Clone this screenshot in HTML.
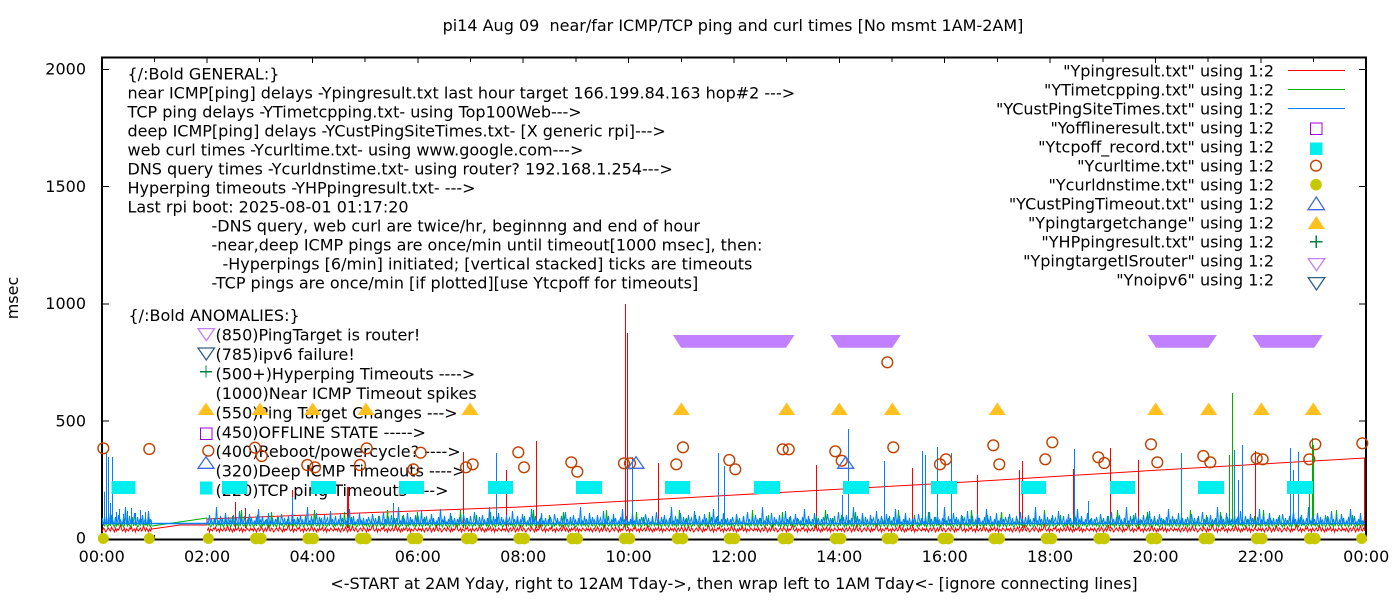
<!DOCTYPE html>
<html><head><meta charset="utf-8"><style>
html,body{margin:0;padding:0;background:#fff;}
svg{display:block;}
text{font-family:"DejaVu Sans","Liberation Sans",sans-serif;font-size:16px;fill:#000;white-space:pre;}
</style></head><body>
<svg width="1400" height="600" viewBox="0 0 1400 600" xmlns="http://www.w3.org/2000/svg">
<defs>
<pattern id="pr" patternUnits="userSpaceOnUse" x="0" y="515" width="84" height="20">
<polyline fill="none" stroke="#ff0000" stroke-width="1" points="-0.5,15 0.5,14 1.5,16 2.5,13 3.5,15 4.5,17 5.5,14 6.5,13 7.5,16 8.5,15 9.5,12 10.5,14 11.5,17 12.5,15 13.5,13 14.5,16 15.5,14 16.5,10 17.5,15 18.5,16 19.5,13 20.5,14 21.5,17 22.5,16 23.5,14 24.5,13 25.5,15 26.5,16 27.5,12 28.5,14 29.5,15 30.5,17 31.5,13 32.5,16 33.5,14 34.5,15 35.5,13 36.5,9 37.5,14 38.5,16 39.5,15 40.5,13 41.5,17 42.5,14 43.5,15 44.5,16 45.5,13 46.5,14 47.5,12 48.5,16 49.5,15 50.5,14 51.5,17 52.5,13 53.5,15 54.5,16 55.5,14 56.5,13 57.5,16 58.5,15 59.5,10 60.5,14 61.5,16 62.5,13 63.5,15 64.5,17 65.5,14 66.5,16 67.5,13 68.5,15 69.5,14 70.5,12 71.5,16 72.5,15 73.5,13 74.5,17 75.5,14 76.5,15 77.5,16 78.5,13 79.5,14 80.5,15 81.5,16 82.5,13 83.5,15 84.5,14"/>
</pattern>
<pattern id="pg" patternUnits="userSpaceOnUse" x="0" y="500" width="73" height="30">
<polyline fill="none" stroke="#00b000" stroke-width="1" points="-0.5,25 0.5,24 1.5,26 2.5,23 3.5,25 4.5,27 5.5,24 6.5,19 7.5,25 8.5,26 9.5,23 10.5,24 11.5,27 12.5,25 13.5,16 14.5,24 15.5,26 16.5,23 17.5,25 18.5,24 19.5,27 20.5,23 21.5,25 22.5,10 23.5,24 24.5,26 25.5,25 26.5,23 27.5,27 28.5,24 29.5,18 30.5,25 31.5,26 32.5,23 33.5,24 34.5,27 35.5,25 36.5,23 37.5,26 38.5,15 39.5,24 40.5,25 41.5,27 42.5,23 43.5,26 44.5,24 45.5,25 46.5,20 47.5,24 48.5,26 49.5,23 50.5,27 51.5,25 52.5,12 53.5,24 54.5,26 55.5,23 56.5,25 57.5,27 58.5,24 59.5,17 60.5,26 61.5,23 62.5,25 63.5,24 64.5,27 65.5,26 66.5,23 67.5,25 68.5,19 69.5,24 70.5,26 71.5,23 72.5,25 73.5,24"/>
</pattern>
<pattern id="pb" patternUnits="userSpaceOnUse" x="0" y="500" width="91" height="30">
<polyline fill="none" stroke="#0080ff" stroke-width="1" points="-0.5,18 0.5,23.3 1.5,23.3 2.5,19 3.5,23.3 4.5,17 5.5,21 6.5,23.3 7.5,23.3 8.5,14 9.5,20 10.5,23.3 11.5,18 12.5,23.3 13.5,22 14.5,23.3 15.5,16 16.5,23.3 17.5,23.3 18.5,21 19.5,12 20.5,23.3 21.5,19 22.5,23.3 23.5,23.3 24.5,17 25.5,23.3 26.5,22 27.5,15 28.5,23.3 29.5,20 30.5,23.3 31.5,23.3 32.5,18 33.5,23.3 34.5,7 35.5,23.3 36.5,21 37.5,23.3 38.5,16 39.5,23.3 40.5,19 41.5,23.3 42.5,23.3 43.5,13 44.5,22 45.5,23.3 46.5,17 47.5,23.3 48.5,20 49.5,23.3 50.5,23.3 51.5,15 52.5,23.3 53.5,21 54.5,18 55.5,23.3 56.5,23.3 57.5,11 58.5,23.3 59.5,19 60.5,23.3 61.5,22 62.5,16 63.5,23.3 64.5,23.3 65.5,20 66.5,23.3 67.5,14 68.5,23.3 69.5,18 70.5,23.3 71.5,23.3 72.5,21 73.5,23.3 74.5,17 75.5,23.3 76.5,9 77.5,23.3 78.5,20 79.5,23.3 80.5,16 81.5,23.3 82.5,22 83.5,23.3 84.5,19 85.5,23.3 86.5,13 87.5,23.3 88.5,21 89.5,23.3 90.5,18 91.5,23.3"/>
</pattern>
</defs>
<rect width="1400" height="600" fill="#fff"/>

<!-- title / axis labels -->
<text x="733" y="31" text-anchor="middle">pi14 Aug 09  near/far ICMP/TCP ping and curl times [No msmt 1AM-2AM]</text>
<text x="734" y="589" text-anchor="middle">&lt;-START at 2AM Yday, right to 12AM Tday-&gt;, then wrap left to 1AM Tday&lt;- [ignore connecting lines]</text>
<text transform="translate(18,298) rotate(-90)" text-anchor="middle">msec</text>

<!-- y tick labels -->
<g text-anchor="end">
<text x="86" y="74.5">2000</text>
<text x="86" y="191.8">1500</text>
<text x="86" y="309.1">1000</text>
<text x="86" y="426.4">500</text>
<text x="86" y="543.7">0</text>
</g>
<!-- x tick labels -->
<g text-anchor="middle">
<text x="101.7" y="562">00:00</text>
<text x="207.1" y="562">02:00</text>
<text x="312.5" y="562">04:00</text>
<text x="417.8" y="562">06:00</text>
<text x="523.2" y="562">08:00</text>
<text x="628.6" y="562">10:00</text>
<text x="734" y="562">12:00</text>
<text x="839.3" y="562">14:00</text>
<text x="944.7" y="562">16:00</text>
<text x="1050.1" y="562">18:00</text>
<text x="1155.5" y="562">20:00</text>
<text x="1260.8" y="562">22:00</text>
<text x="1366.2" y="562">00:00</text>
</g>

<!-- frame and ticks -->
<g stroke="#000" fill="none" shape-rendering="crispEdges">
<rect x="102" y="57.5" width="1264" height="482" stroke-width="1.6"/>
<path stroke-width="1" d="M102 538.5H109M102 421.2H109M102 303.9H109M102 186.6H109M102 69.3H109
M1366 538.5H1359M1366 421.2H1359M1366 303.9H1359M1366 186.6H1359M1366 69.3H1359
M154.4 58V62M207.1 58V63M259.7 58V62M312.5 58V63M365.1 58V62M417.8 58V63M470.5 58V62M523.2 58V63M575.9 58V62M628.6 58V63M681.3 58V62M734 58V63M786.7 58V62M839.3 58V63M892 58V62M944.7 58V63M997.4 58V62M1050.1 58V63M1102.8 58V62M1155.5 58V63M1208.2 58V62M1260.8 58V63M1313.5 58V62
M154.4 539V535M207.1 539V534M259.7 539V535M312.5 539V534M365.1 539V535M417.8 539V534M470.5 539V535M523.2 539V534M575.9 539V535M628.6 539V534M681.3 539V535M734 539V534M786.7 539V535M839.3 539V534M892 539V535M944.7 539V534M997.4 539V535M1050.1 539V534M1102.8 539V535M1155.5 539V534M1208.2 539V535M1260.8 539V534M1313.5 539V535"/>
</g>

<!-- general text block -->
<text x="127.5" y="79.3">{/:Bold GENERAL:}</text>
<text x="127.5" y="98.3">near ICMP[ping] delays -Ypingresult.txt last hour target 166.199.84.163 hop#2 ---&gt;</text>
<text x="127.5" y="117.3">TCP ping delays -YTimetcpping.txt- using Top100Web---&gt;</text>
<text x="127.5" y="136.4">deep ICMP[ping] delays -YCustPingSiteTimes.txt- [X generic rpi]---&gt;</text>
<text x="127.5" y="155.4">web curl times -Ycurltime.txt- using www.google.com---&gt;</text>
<text x="127.5" y="174.5">DNS query times -Ycurldnstime.txt- using router? 192.168.1.254---&gt;</text>
<text x="127.5" y="193.5">Hyperping timeouts -YHPpingresult.txt- ---&gt;</text>
<text x="127.5" y="212.5">Last rpi boot: 2025-08-01 01:17:20</text>
<text x="211.5" y="231.5">-DNS query, web curl are twice/hr, beginnng and end of hour</text>
<text x="211.5" y="250.6">-near,deep ICMP pings are once/min until timeout[1000 msec], then:</text>
<text x="222.5" y="269.6">-Hyperpings [6/min] initiated; [vertical stacked] ticks are timeouts</text>
<text x="211.5" y="288.7">-TCP pings are once/min [if plotted][use Ytcpoff for timeouts]</text>

<text x="128.5" y="321">{/:Bold ANOMALIES:}</text>
<text x="215.5" y="340.5">(850)PingTarget is router!</text>
<text x="215.5" y="360">(785)ipv6 failure!</text>
<text x="215.5" y="379.4">(500+)Hyperping Timeouts ----&gt;</text>
<text x="215.5" y="398.9">(1000)Near ICMP Timeout spikes</text>
<text x="215.5" y="418.3">(550)Ping Target Changes ---&gt;</text>
<text x="215.5" y="437.8">(450)OFFLINE STATE -----&gt;</text>
<text x="215.5" y="457.2">(400)Reboot/powercycle? ----&gt;</text>
<text x="215.5" y="476.7">(320)Deep ICMP Timeouts ----&gt;</text>
<text x="215.5" y="496.1">(220)TCP ping Timeouts ----&gt;</text>

<!-- legend text -->
<g text-anchor="end">
<text x="1274" y="76.5">"Ypingresult.txt" using 1:2</text>
<text x="1274" y="95.5">"YTimetcpping.txt" using 1:2</text>
<text x="1274" y="114.5">"YCustPingSiteTimes.txt" using 1:2</text>
<text x="1274" y="133.5">"Yofflineresult.txt" using 1:2</text>
<text x="1274" y="152.5">"Ytcpoff_record.txt" using 1:2</text>
<text x="1274" y="171.5">"Ycurltime.txt" using 1:2</text>
<text x="1274" y="190.5">"Ycurldnstime.txt" using 1:2</text>
<text x="1274" y="209.5">"YCustPingTimeout.txt" using 1:2</text>
<text x="1274" y="228.5">"Ypingtargetchange" using 1:2</text>
<text x="1274" y="247.5">"YHPpingresult.txt" using 1:2</text>
<text x="1274" y="266.5">"YpingtargetISrouter" using 1:2</text>
<text x="1274" y="285.5">"Ynoipv6" using 1:2</text>
</g>

<!-- legend line samples -->
<g stroke-width="1">
<line x1="1288" y1="70.5" x2="1345" y2="70.5" stroke="#ff0000"/>
<line x1="1288" y1="89.5" x2="1345" y2="89.5" stroke="#00b000"/>
<line x1="1288" y1="108.5" x2="1345" y2="108.5" stroke="#0080ff"/>
</g>

<!-- RED series -->
<rect x="102" y="515" width="50" height="20" fill="url(#pr)"/>
<rect x="207" y="515" width="1157" height="20" fill="url(#pr)"/>
<g fill="none" stroke="#ff0000" stroke-width="1">
<path d="M235.5,528V502M245.5,528V508M292.5,528V490M347.5,528V487M348.5,528V487M463.5,528V452M506.5,528V470M536.5,528V441M625.5,528V304M627.5,528V333M658.5,528V463M816.5,528V465M912.5,528V468M977.5,528V475M1019.5,528V470M1022.5,528V461M1073.5,528V469M1110.5,528V448M1138.5,528V460M1255.5,528V451"/>
<polyline points="152,529 180,525 207,525 207,519 360,513 520,507 735,495 950,483 1160,470 1364.5,458 1364.5,531"/>
</g>

<!-- GREEN series -->
<rect x="102" y="500" width="50" height="30" fill="url(#pg)"/>
<rect x="207" y="500" width="1157" height="30" fill="url(#pg)"/>
<g fill="none" stroke="#00b000" stroke-width="1">
<path d="M1229.5,524V455M1232.5,524V393M1309.5,524V483M1312.5,524V438M1313.5,524V445"/>
<polyline points="152,526 207,518"/>
</g>

<!-- BLUE series -->
<line x1="102" y1="523.5" x2="1365" y2="523.5" stroke="#0080ff" stroke-width="1.5"/>
<rect x="102" y="500" width="50" height="30" fill="url(#pb)"/>
<rect x="207" y="500" width="1157" height="30" fill="url(#pb)"/>
<g fill="none" stroke="#0080ff" stroke-width="1">
<path d="M104.5,523V491.7M106.5,523V453M108.5,523V457M110.5,523V503M112.5,523V457M116.5,523V512M119.5,523V509M123.5,523V514M127.5,523V511M131.5,523V508M135.5,523V513M140.5,523V510M145.5,523V512M148.5,523V515M292.5,523V497M393.5,523V503M496.5,523V453M632.5,523V457M718.5,523V453M724.5,523V466M842.5,523V495M848.5,523V429M884.5,523V461M922.5,523V451M925.5,523V455M937.5,523V447M951.5,523V453M1074.5,523V449M1088.5,523V501M1181.5,523V453M1234.5,523V450M1242.5,523V445M1238.5,523V480M1290.5,523V448M1293.5,523V470M1298.5,523V452"/>
</g>

<!-- TCP off (cyan) -->
<g fill="#00eeee" shape-rendering="crispEdges">
<rect x="111.7" y="481" width="24" height="13"/>
<rect x="200" y="481.7" width="12.7" height="12.7"/>
<rect x="222" y="481" width="25" height="13"/>
<rect x="311" y="481" width="25" height="13"/>
<rect x="399" y="481" width="25" height="13"/>
<rect x="488" y="481" width="25" height="13"/>
<rect x="576" y="481" width="26" height="13"/>
<rect x="665" y="481" width="25" height="13"/>
<rect x="754" y="481" width="26" height="13"/>
<rect x="843" y="481" width="26" height="13"/>
<rect x="931" y="481" width="26" height="13"/>
<rect x="1021" y="481" width="25" height="13"/>
<rect x="1110" y="481" width="25" height="13"/>
<rect x="1198" y="481" width="26" height="13"/>
<rect x="1287" y="481" width="26" height="13"/>
<rect x="1310" y="142.3" width="12.7" height="12.7"/>
</g>

<!-- offline square -->
<g fill="none" stroke="#a000e0" stroke-width="1.3" shape-rendering="crispEdges">
<rect x="200.5" y="428" width="11.5" height="11.5"/>
<rect x="1310.5" y="123" width="11.5" height="11.5"/>
</g>

<!-- curl circles -->
<g fill="none" stroke="#c04000" stroke-width="1.4">
<circle cx="103.3" cy="448.3" r="5.4"/><circle cx="149.3" cy="449" r="5.4"/><circle cx="208.3" cy="450.7" r="5.4"/>
<circle cx="255" cy="447.7" r="5.4"/><circle cx="261.7" cy="456" r="5.4"/><circle cx="307.3" cy="465" r="5.4"/>
<circle cx="315" cy="467.3" r="5.4"/><circle cx="360" cy="465" r="5.4"/><circle cx="366.7" cy="448.3" r="5.4"/>
<circle cx="413.3" cy="469.3" r="5.4"/><circle cx="420.7" cy="452.7" r="5.4"/><circle cx="466" cy="467.3" r="5.4"/>
<circle cx="472.7" cy="464.3" r="5.4"/><circle cx="518.3" cy="452.3" r="5.4"/><circle cx="524" cy="467.3" r="5.4"/>
<circle cx="571.3" cy="462.3" r="5.4"/><circle cx="577.3" cy="471.7" r="5.4"/><circle cx="624" cy="463.3" r="5.4"/>
<circle cx="630" cy="463.3" r="5.4"/><circle cx="676.3" cy="464.3" r="5.4"/><circle cx="683" cy="447.3" r="5.4"/>
<circle cx="729.3" cy="460" r="5.4"/><circle cx="735.3" cy="469.3" r="5.4"/><circle cx="782.7" cy="449.3" r="5.4"/>
<circle cx="788.7" cy="449.3" r="5.4"/><circle cx="835.3" cy="451.3" r="5.4"/><circle cx="841.7" cy="460.7" r="5.4"/>
<circle cx="887.3" cy="362.3" r="5.4"/><circle cx="893.3" cy="447.3" r="5.4"/><circle cx="940" cy="464.3" r="5.4"/>
<circle cx="946" cy="459.3" r="5.4"/><circle cx="993.3" cy="445.3" r="5.4"/><circle cx="999.3" cy="464.3" r="5.4"/>
<circle cx="1045.3" cy="459.3" r="5.4"/><circle cx="1052.3" cy="442.3" r="5.4"/><circle cx="1098.3" cy="457.3" r="5.4"/>
<circle cx="1104.3" cy="463" r="5.4"/><circle cx="1151" cy="444.3" r="5.4"/><circle cx="1157.3" cy="462.3" r="5.4"/>
<circle cx="1203.3" cy="456" r="5.4"/><circle cx="1210.3" cy="462.3" r="5.4"/><circle cx="1256.7" cy="458.3" r="5.4"/>
<circle cx="1262.7" cy="459.3" r="5.4"/><circle cx="1309.3" cy="459.3" r="5.4"/><circle cx="1315.3" cy="444.3" r="5.4"/>
<circle cx="1362.3" cy="443.3" r="5.4"/>
<circle cx="1316" cy="165.7" r="5.4"/>
</g>

<!-- dns yellow dots -->
<g fill="#c8c800">
<circle cx="103.3" cy="538.5" r="5.5"/><circle cx="149.3" cy="538.5" r="5.5"/><circle cx="208.3" cy="538.5" r="5.5"/><circle cx="1361.7" cy="538.5" r="5.5"/>
<circle cx="255.8" cy="538.5" r="5.8"/><circle cx="260.8" cy="538.5" r="5.8"/>
<circle cx="308.2" cy="538.5" r="5.8"/><circle cx="313.2" cy="538.5" r="5.8"/>
<circle cx="360.8" cy="538.5" r="5.8"/><circle cx="365.8" cy="538.5" r="5.8"/>
<circle cx="412.5" cy="538.5" r="5.8"/><circle cx="417.5" cy="538.5" r="5.8"/>
<circle cx="466.8" cy="538.5" r="5.8"/><circle cx="471.8" cy="538.5" r="5.8"/>
<circle cx="519.2" cy="538.5" r="5.8"/><circle cx="524.2" cy="538.5" r="5.8"/>
<circle cx="572.2" cy="538.5" r="5.8"/><circle cx="577.2" cy="538.5" r="5.8"/>
<circle cx="624.5" cy="538.5" r="5.8"/><circle cx="629.5" cy="538.5" r="5.8"/>
<circle cx="677.5" cy="538.5" r="5.8"/><circle cx="682.5" cy="538.5" r="5.8"/>
<circle cx="729.5" cy="538.5" r="5.8"/><circle cx="734.5" cy="538.5" r="5.8"/>
<circle cx="783.2" cy="538.5" r="5.8"/><circle cx="788.2" cy="538.5" r="5.8"/>
<circle cx="835.5" cy="538.5" r="5.8"/><circle cx="840.5" cy="538.5" r="5.8"/>
<circle cx="887.5" cy="538.5" r="5.8"/><circle cx="892.5" cy="538.5" r="5.8"/>
<circle cx="943.2" cy="538.5" r="5.8"/><circle cx="948.2" cy="538.5" r="5.8"/>
<circle cx="994.2" cy="538.5" r="5.8"/><circle cx="999.2" cy="538.5" r="5.8"/>
<circle cx="1046.5" cy="538.5" r="5.8"/><circle cx="1051.5" cy="538.5" r="5.8"/>
<circle cx="1099.2" cy="538.5" r="5.8"/><circle cx="1104.2" cy="538.5" r="5.8"/>
<circle cx="1151.5" cy="538.5" r="5.8"/><circle cx="1156.5" cy="538.5" r="5.8"/>
<circle cx="1204.2" cy="538.5" r="5.8"/><circle cx="1209.2" cy="538.5" r="5.8"/>
<circle cx="1256.8" cy="538.5" r="5.8"/><circle cx="1261.8" cy="538.5" r="5.8"/>
<circle cx="1309.8" cy="538.5" r="5.8"/><circle cx="1314.8" cy="538.5" r="5.8"/>
<circle cx="1316" cy="184.7" r="5.8"/>
</g>

<!-- deep ICMP timeout (blue outline triangles) -->
<g fill="none" stroke="#4169e1" stroke-width="1.3">
<polygon points="198,468.3 214,468.3 206,456.7"/>
<polygon points="628,468.3 644,468.3 636,456.7"/>
<polygon points="837.7,468.3 853.7,468.3 845.7,456.7"/>
<polygon points="1308,209.7 1324.5,209.7 1316.3,197"/>
</g>

<!-- ping target change (filled orange triangles) -->
<g fill="#ffc020">
<polygon points="197.5,415 214.5,415 206,402.5"/>
<polygon points="251.5,415 268.5,415 260,402.5"/>
<polygon points="304.2,415 321.2,415 312.7,402.5"/>
<polygon points="357.5,415 374.5,415 366,402.5"/>
<polygon points="461.5,415 478.5,415 470,402.5"/>
<polygon points="672.8,415 689.8,415 681.3,402.5"/>
<polygon points="778.2,415 795.2,415 786.7,402.5"/>
<polygon points="830.8,415 847.8,415 839.3,402.5"/>
<polygon points="883.8,415 900.8,415 892.3,402.5"/>
<polygon points="988.8,415 1005.8,415 997.3,402.5"/>
<polygon points="1147.2,415 1164.2,415 1155.7,402.5"/>
<polygon points="1200.2,415 1217.2,415 1208.7,402.5"/>
<polygon points="1252.8,415 1269.8,415 1261.3,402.5"/>
<polygon points="1304.8,415 1321.8,415 1313.3,402.5"/>
<polygon points="1307.8,229 1324.8,229 1316.3,216"/>
</g>

<!-- hyperping plus -->
<g stroke="#008040" stroke-width="1.3" shape-rendering="crispEdges">
<path d="M200 371.7H212M206 365.7V377.7"/>
<path d="M1310 241.7H1322.7M1316.3 235.5V248"/>
</g>

<!-- ping target is router (lavender) -->
<g fill="#c080ff">
<polygon points="673,335 794.5,335 786,347.7 681,347.7"/>
<polygon points="830.5,335 900.8,335 892.3,347.7 838.7,347.7"/>
<polygon points="1147.8,335 1216.8,335 1208.3,347.7 1156,347.7"/>
<polygon points="1252.5,335 1322.8,335 1314.3,347.7 1260.7,347.7"/>
</g>
<g fill="none" stroke="#c080ff" stroke-width="1.3">
<polygon points="198,328.6 214.5,328.6 206.3,340.7"/>
<polygon points="1308.2,258.6 1324.8,258.6 1316.5,270.7"/>
</g>
<!-- no ipv6 (dark slate) -->
<g fill="none" stroke="#306080" stroke-width="1.3">
<polygon points="198,348 214.5,348 206.3,360"/>
<polygon points="1308.2,277.6 1324.8,277.6 1316.5,290"/>
</g>
</svg>
</body></html>
